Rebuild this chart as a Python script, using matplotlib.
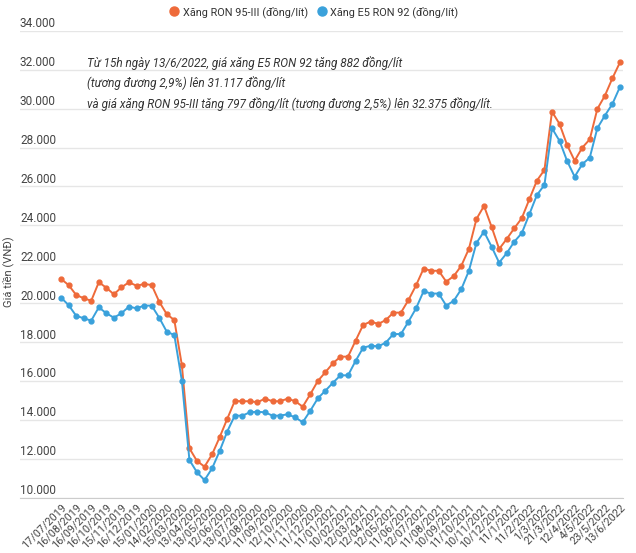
import matplotlib.pyplot as plt
import matplotlib.transforms as mtransforms

plt.rcParams['font.family'] = ['Roboto', 'DejaVu Sans']

# Giá xăng theo từng kỳ điều hành (đồng/lít)
ron95 = [21250, 20940, 20430, 20260, 20130, 21080, 20800, 20460, 20820, 21080,
         20900, 20990, 20940, 20080, 19440, 19140, 16820, 12550, 11900, 11610,
         12240, 13120, 14060, 14980, 14970, 14970, 14920, 15100, 14970, 14970,
         15100, 14970, 14690, 15330, 16010, 16460, 16920, 17260, 17260, 18080,
         18890, 19060, 18940, 19140, 19520, 19520, 20170, 20920, 21780, 21670,
         21670, 21110, 21400, 21930, 22800, 24330, 25000, 23930, 22790, 23300,
         23850, 24370, 25340, 26300, 26850, 29840, 29210, 28130, 27320, 27990,
         28420, 29980, 30660, 31560, 32375]
e5ron92 = [20290, 19910, 19360, 19230, 19110, 19790, 19490, 19260, 19490, 19830,
           19740, 19880, 19880, 19260, 18540, 18370, 16020, 11950, 11320, 10920,
           11520, 12410, 13410, 14230, 14230, 14400, 14430, 14400, 14230, 14230,
           14300, 14140, 13890, 14480, 15120, 15510, 15920, 16300, 16300, 17040,
           17720, 17820, 17790, 17980, 18420, 18420, 19060, 19740, 20620, 20500,
           20500, 19880, 20130, 20730, 21670, 23100, 23680, 22910, 22090, 22570,
           23160, 23600, 24570, 25560, 26080, 28990, 28340, 27310, 26500, 27140,
           27480, 28990, 29640, 30240, 31117]

# nhãn trục hoành (cứ 2 kỳ một nhãn)
tick_labels = ['17/07/2019', '16/08/2019', '16/09/2019', '16/10/2019', '15/11/2019',
               '16/12/2019', '15/01/2020', '14/02/2020', '15/03/2020', '13/04/2020',
               '13/05/2020', '12/06/2020', '13/07/2020', '12/08/2020', '11/09/2020',
               '12/10/2020', '11/11/2020', '11/12/2020', '11/01/2021', '10/02/2021',
               '12/03/2021', '12/04/2021', '12/05/2021', '11/06/2021', '12/07/2021',
               '11/08/2021', '10/09/2021', '11/10/2021', '10/11/2021', '10/12/2021',
               '11/1/2022', '11/2/2022', '1/3/2022', '21/3/2022', '12/4/2022',
               '4/5/2022', '23/5/2022', '13/6/2022']
y_ticks = [10000, 12000, 14000, 16000, 18000, 20000, 22000, 24000,
           26000, 28000, 30000, 32000, 34000]

orange = '#EE6A3A'
blue = '#3AA1DB'

W, H = 636, 553
fig = plt.figure(figsize=(W / 100, H / 100), dpi=100)
ax = fig.add_axes([20 / W, 1 - 498 / H, 603 / W, (498 - 30.7) / H])

x = list(range(len(ron95)))
ax.plot(x, ron95, color=orange, lw=1.4, marker='o', ms=3.5, zorder=3,
        label='Xăng RON 95-III (đồng/lít)')
ax.plot(x, e5ron92, color=blue, lw=1.4, marker='o', ms=3.5, zorder=3,
        label='Xăng E5 RON 92 (đồng/lít)')

ax.set_xlim(-5.43, 74.4)
ax.set_ylim(10000, 34000)

# lưới ngang, nhãn trục tung nằm trên đường lưới
ax.set_yticks(y_ticks)
ax.set_yticklabels([])
ax.tick_params(axis='y', length=0)
ax.grid(axis='y', color='#e6e6e6', lw=1)
trans = mtransforms.blended_transform_factory(ax.transAxes, ax.transData)
for v in y_ticks:
    ax.annotate(f'{v:,}'.replace(',', '.'), xy=(0, v), xycoords=trans,
                xytext=(0, 0.5), textcoords='offset points',
                ha='left', va='bottom', fontsize=8.5, color='#444444')

ax.set_xticks(range(0, len(ron95), 2))
ax.set_xticklabels(tick_labels, rotation=45, ha='right', rotation_mode='anchor',
                   fontsize=7.8, color='#444444')
ax.tick_params(axis='x', length=0, pad=3)

for s in ['top', 'right', 'left']:
    ax.spines[s].set_visible(False)
ax.spines['bottom'].set_color('#cccccc')

fig.text(8 / W, 1 - 272 / H, 'Giá tiền (VNĐ)', rotation=90, ha='center',
         va='center', fontsize=8, color='#444444')

fig.legend(loc='center', bbox_to_anchor=(314 / W, 1 - 12 / H), ncol=2,
           frameon=False, fontsize=7.8, handlelength=0.8, handletextpad=0.4,
           columnspacing=0.9, labelcolor='#333333')
for h in fig.legends[0].legend_handles:
    h.set_linestyle('none')
    h.set_markersize(6.5)

fig.text(87 / W, 1 - 56 / H,
         'Từ 15h ngày 13/6/2022, giá xăng E5 RON 92 tăng 882 đồng/lít\n'
         '(tương đương 2,9%) lên 31.117 đồng/lít\n'
         'và giá xăng RON 95-III tăng 797 đồng/lít (tương đương 2,5%) lên 32.375 đồng/lít.',
         ha='left', va='top', fontsize=8.5, style='italic', color='#333333',
         linespacing=1.6)

fig.savefig('out.png', dpi=100)
